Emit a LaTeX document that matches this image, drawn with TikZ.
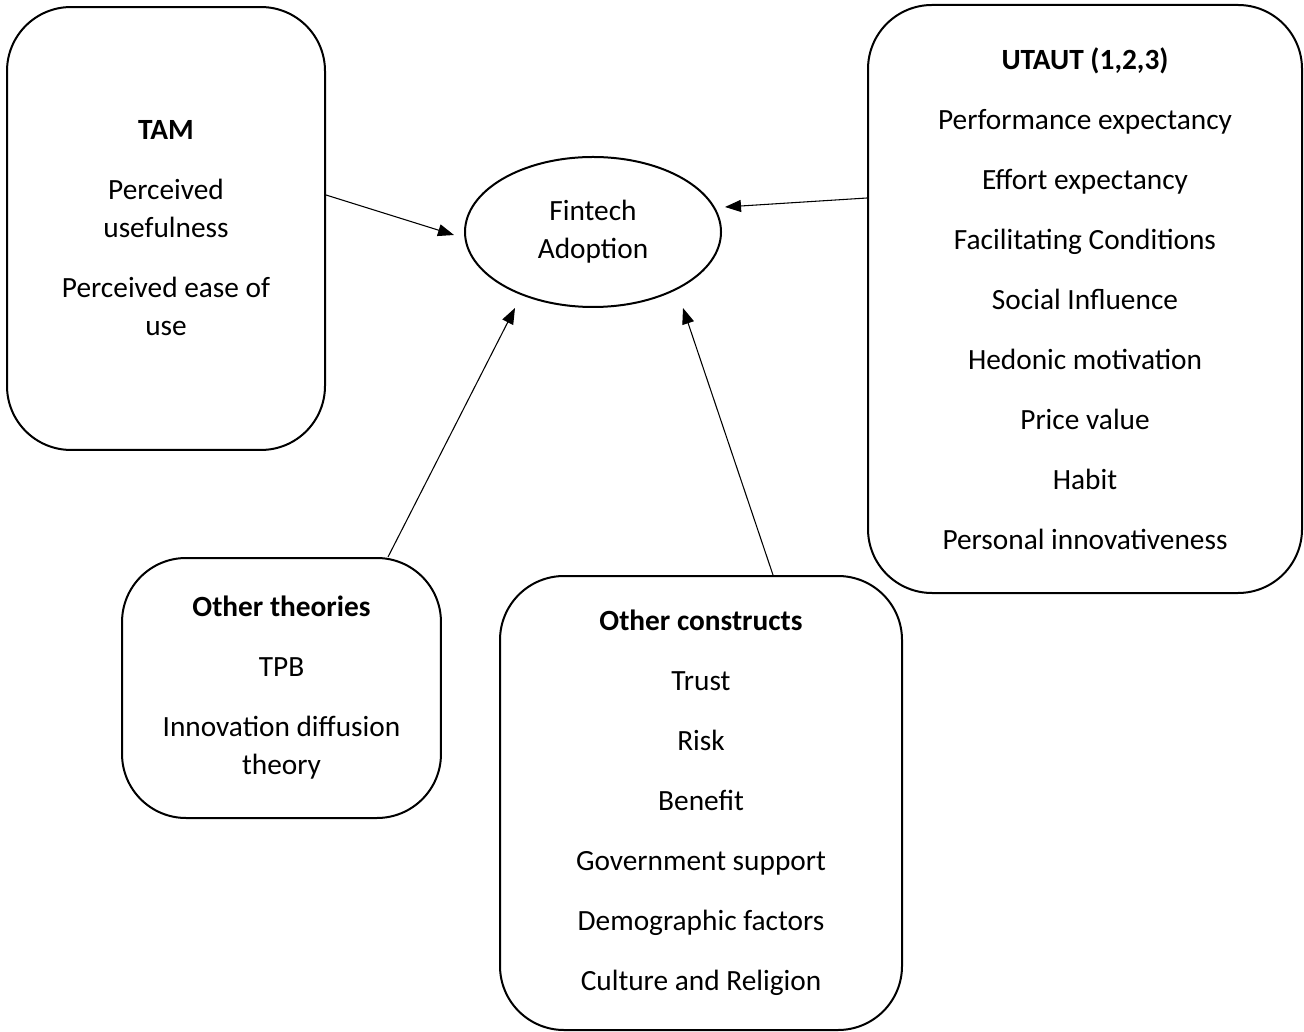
\documentclass[tikz,border=0pt]{standalone}
\usepackage{fontspec}
\setmainfont{Carlito}
\usetikzlibrary{positioning,arrows.meta,shapes,calc}

\begin{document}
\begin{tikzpicture}[
  x=0.375pt, y=-0.375pt,
  font=\fontsize{11}{14.25}\selectfont,
  box/.style={rectangle, rounded corners=24pt, draw=black, line width=0.75pt,
              inner sep=0pt, align=center},
  arr/.style={-{Triangle[length=6pt,width=4.5pt]}, line width=0.4pt}
]
\useasboundingbox (0,0) rectangle (1304,1032);
\node[box, minimum width=119.25pt, minimum height=166.1pt] (tam) at (166,228.5) {\textbf{TAM} \\[8.25pt]
  Perceived \\ usefulness \\[8.25pt]
  Perceived ease of \\ use
};
\node[box, minimum width=162.75pt, minimum height=220.5pt] (utaut) at (1085,299) {\textbf{UTAUT (1,2,3)} \\[8.25pt]
  Performance expectancy \\[8.25pt]
  Effort expectancy \\[8.25pt]
  Facilitating Conditions \\[8.25pt]
  Social Influence \\[8.25pt]
  Hedonic motivation \\[8.25pt]
  Price value \\[8.25pt]
  Habit \\[8.25pt]
  Personal innovativeness
};
\node[box, minimum width=119.6pt, minimum height=97.5pt] (oth) at (281.5,688) {\textbf{Other theories} \\[8.25pt]
  TPB \\[8.25pt]
  Innovation diffusion \\ theory
};
\node[box, minimum width=150.75pt, minimum height=170.25pt] (con) at (701,803) {\textbf{Other constructs} \\[8.25pt]
  Trust \\[8.25pt]
  Risk \\[8.25pt]
  Benefit \\[8.25pt]
  Government support \\[8.25pt]
  Demographic factors \\[8.25pt]
  Culture and Religion
};
\node[ellipse, draw=black, line width=0.75pt, minimum width=96pt, minimum height=56.25pt,
      inner sep=0pt, align=center] (fin) at (593,232) {Fintech \\ Adoption};

% arrows into the ellipse
\draw[arr] ($(tam.east)+(0,-33.5)$) -- ($(fin.west)+(-10,3)$);
\draw[arr] ($(utaut.west)+(0,-101)$) -- ($(fin.east)+(3,-25)$);
\draw[arr] ($(oth.north)+(106.5,0)$) -- ($(fin.south)+(-78,0)$);
\draw[arr] ($(con.north)+(72,0)$) -- ($(fin.south)+(90,0)$);
\end{tikzpicture}
\end{document}
